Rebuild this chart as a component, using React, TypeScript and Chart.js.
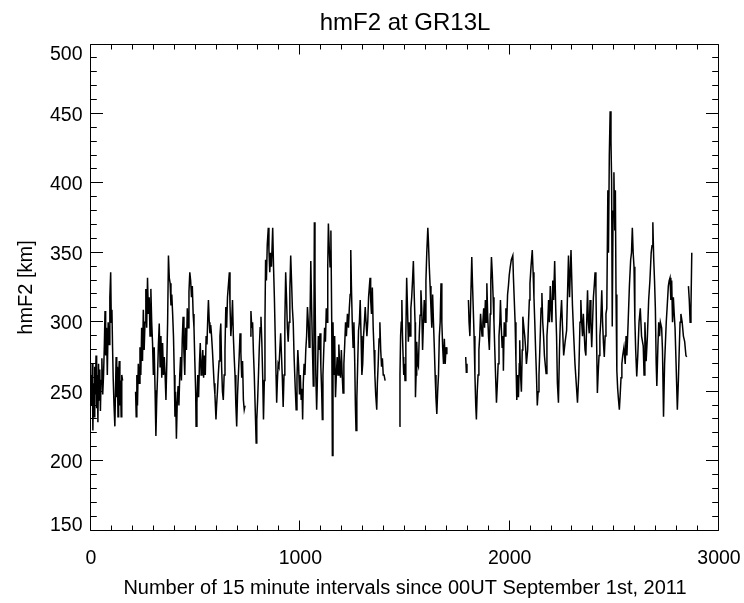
import { useEffect, useRef } from 'react';
import { Chart, registerables } from 'chart.js';

Chart.register(...registerables);

// [interval index, hmF2 km], one array per continuous stretch of data
const seg1: [number, number][] = [
  [0, 262], [3, 240], [6, 270], [9, 222], [12, 256], [15, 232], [18, 268], [21, 248], [24, 276], [27, 238],
  [30, 262], [33, 228], [36, 270], [39, 244], [42, 266], [45, 236], [48, 258], [52, 274], [56, 248], [60, 262],
  [64, 285], [67, 308], [70, 276], [74, 296], [78, 262], [82, 300], [86, 284], [90, 318], [94, 336], [97, 300],
  [100, 309], [103, 282], [106, 260], [110, 240], [114, 225], [117, 250], [120, 275], [123, 246], [126, 268],
  [129, 232], [132, 262], [135, 272], [138, 240], [141, 258], [144, 232], [147, 262], [151, 258],
];

const seg2: [number, number][] = [
  [213, 250], [216, 232], [219, 262], [222, 240], [226, 270], [230, 256], [234, 282], [238, 262], [242, 296],
  [246, 272], [250, 309], [254, 280], [258, 300], [262, 324], [266, 296], [270, 332], [274, 306], [278, 318],
  [282, 290], [286, 324], [290, 300], [294, 285], [298, 262], [302, 282], [306, 251], [310, 218], [314, 244],
  [318, 262], [322, 284], [326, 299], [330, 268], [334, 290], [338, 260], [342, 285], [346, 262], [350, 275],
  [354, 262], [358, 244], [362, 270], [366, 300], [370, 348], [374, 332], [378, 328], [382, 312], [386, 320],
  [390, 306], [394, 290], [398, 262], [401, 232], [404, 250], [408, 216], [412, 242], [416, 254], [420, 240],
  [424, 262], [428, 275], [432, 258], [436, 288], [440, 304], [444, 278], [448, 262], [452, 296], [456, 280],
  [460, 310], [464, 296], [468, 322], [472, 336], [476, 330], [480, 318], [484, 326], [488, 306], [492, 296],
  [496, 272], [500, 250], [502, 225], [506, 242], [510, 262], [514, 246], [518, 270], [522, 285], [526, 262],
  [530, 268], [534, 280], [538, 260], [542, 276], [546, 262], [550, 290], [554, 284], [558, 304], [561, 316],
  [565, 300], [568, 292], [572, 298], [576, 290], [580, 280], [584, 268], [588, 256], [592, 248], [597, 230],
  [600, 240], [604, 250], [608, 262], [612, 272], [616, 290], [620, 299], [624, 268], [628, 250], [632, 244],
  [636, 262], [640, 280], [644, 311], [648, 296], [652, 318], [656, 326], [661, 336], [664, 312], [668, 290],
  [672, 300], [676, 316], [680, 290], [684, 275], [688, 262], [692, 240], [696, 225], [700, 248], [704, 262],
  [708, 276], [712, 292], [716, 278], [720, 260], [724, 272], [728, 244], [732, 237], [736, 240],
];

const seg3: [number, number][] = [
  [760, 290], [764, 308], [768, 296], [772, 300], [776, 278], [780, 262], [784, 240], [789, 213], [792, 230],
  [796, 244], [800, 262], [804, 282], [808, 296], [812, 304], [816, 286], [820, 262], [824, 230], [828, 258],
  [831, 300], [834, 345], [838, 330], [842, 356], [847, 368], [850, 352], [854, 336], [858, 350], [862, 340],
  [868, 368], [872, 340], [876, 318], [880, 290], [884, 262], [887, 242], [890, 256], [894, 270], [898, 268],
  [902, 280], [906, 292], [910, 276], [914, 260], [918, 239], [922, 262], [926, 300], [930, 336], [934, 318],
  [938, 296], [942, 286], [946, 300], [950, 324], [954, 348], [958, 330], [962, 310], [966, 300], [970, 276],
  [975, 255], [980, 237], [984, 260], [988, 280], [992, 268], [996, 248], [1000, 262], [1004, 244], [1008, 252],
  [1011, 230], [1014, 256], [1018, 270], [1022, 262], [1026, 280], [1030, 290], [1034, 311], [1038, 300],
  [1042, 282], [1046, 300], [1050, 344], [1054, 310], [1058, 280], [1062, 254], [1065, 300], [1067, 372],
  [1070, 330], [1074, 262], [1078, 237], [1082, 262], [1086, 290], [1090, 280], [1094, 292], [1098, 268],
  [1102, 250], [1105, 230], [1108, 262], [1112, 280], [1116, 296], [1120, 286], [1124, 310], [1128, 300],
  [1131, 340], [1134, 371], [1138, 354], [1142, 340], [1146, 366], [1150, 300], [1153, 204], [1156, 300],
  [1160, 262], [1164, 290], [1168, 246], [1172, 262], [1176, 275], [1180, 262], [1184, 284], [1188, 268],
  [1192, 260], [1196, 280], [1200, 262], [1204, 249], [1208, 270], [1212, 284], [1216, 300], [1220, 290],
  [1225, 306], [1230, 296], [1234, 310], [1238, 320], [1241, 352], [1244, 326], [1248, 300], [1252, 282],
  [1256, 300], [1260, 270], [1263, 240], [1266, 222], [1270, 245], [1274, 270], [1278, 294], [1282, 300],
  [1286, 316], [1290, 290], [1294, 262], [1298, 270], [1302, 290], [1306, 300], [1310, 311], [1314, 300],
  [1318, 290], [1322, 300], [1326, 318], [1330, 326], [1333, 332], [1336, 316], [1340, 306], [1344, 325],
  [1348, 296], [1352, 280], [1356, 262], [1360, 248], [1365, 237], [1368, 256], [1372, 270], [1376, 288],
  [1380, 300], [1384, 280], [1388, 268], [1392, 274], [1396, 262], [1400, 262], [1405, 258],
];

const seg4: [number, number][] = [
  [1473, 225], [1476, 262], [1479, 290], [1482, 300], [1485, 316], [1488, 290], [1491, 275], [1494, 262],
  [1497, 270], [1500, 258], [1504, 290], [1508, 332], [1512, 310], [1516, 286], [1520, 300], [1524, 290],
  [1528, 310], [1532, 318], [1536, 330], [1540, 344], [1544, 320], [1548, 300], [1550, 246], [1553, 262],
  [1556, 286], [1560, 270], [1564, 268], [1568, 290], [1572, 305], [1576, 323], [1580, 310], [1584, 280],
  [1588, 300], [1592, 316], [1596, 300], [1600, 330], [1604, 350], [1609, 368], [1612, 358], [1616, 340],
  [1620, 326], [1624, 310], [1628, 296], [1632, 320], [1636, 300], [1640, 282], [1644, 262], [1648, 245],
  [1652, 234], [1656, 250], [1660, 262], [1664, 290], [1668, 300], [1672, 328], [1676, 300], [1680, 282],
  [1684, 270], [1688, 288], [1692, 270], [1696, 282], [1700, 277],
];

const seg5: [number, number][] = [[1790, 275], [1793, 264], [1796, 270]];

const seg6: [number, number][] = [
  [1803, 316], [1806, 300], [1810, 290], [1814, 316], [1819, 347], [1822, 330], [1826, 310], [1830, 290],
  [1834, 262], [1838, 240], [1841, 230], [1845, 250], [1849, 262], [1853, 280], [1857, 290], [1861, 306],
  [1865, 296], [1868, 290], [1872, 300], [1876, 310], [1880, 296], [1884, 316], [1888, 300], [1891, 328],
  [1895, 305], [1899, 290], [1903, 280], [1907, 306], [1910, 330], [1913, 347], [1917, 335], [1921, 318],
  [1925, 300], [1929, 280], [1933, 260], [1937, 242], [1941, 255], [1945, 270], [1949, 290], [1953, 300],
  [1956, 316], [1960, 296], [1964, 282], [1968, 290], [1970, 265], [1974, 300], [1978, 290], [1982, 310],
  [1986, 300], [1990, 320], [1994, 326], [1998, 334], [2003, 340], [2008, 345], [2015, 348], [2018, 332],
  [2022, 316], [2026, 300], [2030, 272], [2034, 244], [2038, 262], [2042, 246], [2046, 270], [2048, 287],
  [2052, 262], [2056, 250], [2060, 280], [2063, 304], [2068, 296], [2072, 290], [2076, 282], [2080, 270],
  [2086, 280], [2090, 300], [2094, 316], [2097, 328], [2102, 340], [2108, 352], [2112, 336], [2116, 318],
  [2120, 300], [2124, 280], [2128, 262], [2132, 240], [2136, 250], [2140, 262], [2144, 280], [2148, 300],
  [2150, 310], [2154, 321], [2158, 300], [2162, 290], [2166, 276], [2174, 263], [2178, 290], [2182, 300],
  [2186, 316], [2190, 300], [2194, 326], [2198, 310], [2202, 300], [2206, 330], [2210, 316], [2215, 344],
  [2220, 310], [2224, 290], [2228, 256], [2233, 242], [2238, 280], [2242, 300], [2248, 316], [2252, 298],
  [2258, 276], [2265, 286], [2272, 294], [2281, 348], [2286, 318], [2293, 352], [2300, 312], [2306, 290],
  [2312, 270], [2318, 256], [2324, 242], [2330, 262], [2336, 300], [2340, 316], [2344, 300], [2348, 290],
  [2352, 306], [2356, 292], [2360, 280], [2364, 276], [2368, 300], [2372, 323], [2376, 300], [2380, 292],
  [2384, 316], [2388, 300], [2392, 282], [2396, 300], [2400, 318], [2404, 326], [2408, 336], [2412, 325],
  [2415, 290], [2419, 249], [2423, 264], [2427, 276], [2431, 290], [2435, 300], [2440, 323], [2444, 300],
  [2448, 285], [2452, 275], [2456, 290], [2460, 306], [2464, 310], [2469, 395], [2472, 350], [2476, 420],
  [2480, 452], [2484, 430], [2487, 402], [2490, 297], [2494, 380], [2498, 408], [2502, 366], [2505, 395],
  [2508, 320], [2512, 265], [2516, 252], [2520, 244], [2524, 237], [2528, 248], [2532, 260], [2536, 270],
  [2540, 276], [2546, 282], [2552, 270], [2556, 290], [2560, 276], [2566, 300], [2572, 326], [2578, 345],
  [2582, 350], [2586, 368], [2590, 350], [2594, 340], [2598, 302], [2602, 280], [2607, 261], [2612, 276],
  [2618, 300], [2624, 310], [2630, 290], [2638, 283], [2642, 262], [2646, 300], [2652, 272], [2658, 290],
  [2664, 316], [2670, 330], [2676, 350], [2680, 355], [2684, 372], [2688, 346], [2692, 330], [2696, 310],
  [2700, 270], [2703, 254], [2708, 282], [2712, 300], [2716, 290], [2720, 300], [2726, 296], [2730, 280],
  [2735, 232], [2740, 270], [2744, 285], [2748, 300], [2752, 310], [2758, 326], [2762, 330], [2766, 332],
  [2770, 316], [2774, 330], [2778, 300], [2782, 318], [2786, 306], [2790, 296], [2795, 270], [2801, 237],
  [2806, 258], [2810, 280], [2814, 300], [2818, 306], [2824, 300], [2830, 290], [2836, 286], [2842, 276],
  [2846, 275],
];

const seg7: [number, number][] = [
  [2854, 326], [2858, 316], [2862, 300], [2866, 310], [2870, 350],
];

const segments = [seg1, seg2, seg3, seg4, seg5, seg6, seg7];

const xTickValues = [0, 1000, 2000, 3000];
const yTickValues = [150, 200, 250, 300, 350, 400, 450, 500];

const TITLE = 'hmF2 at GR13L';
const X_TITLE = 'Number of 15 minute intervals since 00UT September 1st, 2011';
const Y_TITLE = 'hmF2 [km]';
const FONT = "'Liberation Sans', Arial, Helvetica, sans-serif";

function buildPoints() {
  const pts: { x: number; y: number | null }[] = [];
  segments.forEach((seg, i) => {
    if (i > 0) {
      const prev = segments[i - 1];
      pts.push({ x: (prev[prev.length - 1][0] + seg[0][0]) / 2, y: null });
    }
    seg.forEach(([x, y]) => pts.push({ x, y }));
  });
  return pts;
}

const idlAxes = {
  id: 'idlAxes',
  afterDraw(chart: any) {
    const { ctx, chartArea } = chart;
    const { left, right, top, bottom } = chartArea;
    const xs = chart.scales.x;
    const ys = chart.scales.y;
    const L = Math.round(left) - 0.5;
    const R = Math.round(right) - 0.5;
    const T = Math.round(top) - 0.5;
    const B = Math.round(bottom) - 0.5;
    ctx.save();
    ctx.strokeStyle = '#000';
    ctx.lineWidth = 1;
    ctx.beginPath();
    ctx.moveTo(L, T);
    ctx.lineTo(R, T);
    ctx.lineTo(R, B);
    ctx.lineTo(L, B);
    ctx.closePath();
    for (let v = 0; v <= 3000; v += 100) {
      const px = Math.round(xs.getPixelForValue(v)) - 0.5;
      const len = v % 1000 === 0 ? 10 : 5;
      ctx.moveTo(px, B);
      ctx.lineTo(px, B - len);
      ctx.moveTo(px, T);
      ctx.lineTo(px, T + len);
    }
    for (let v = 150; v <= 500; v += 10) {
      const py = Math.round(ys.getPixelForValue(v)) - 0.5;
      const len = v % 50 === 0 ? 12.5 : 6.3;
      ctx.moveTo(L, py);
      ctx.lineTo(L + len, py);
      ctx.moveTo(R, py);
      ctx.lineTo(R - len, py);
    }
    ctx.stroke();

    ctx.fillStyle = '#000';
    ctx.textBaseline = 'alphabetic';
    // tick labels
    ctx.font = `19.5px ${FONT}`;
    ctx.textAlign = 'center';
    xTickValues.forEach((v) => {
      ctx.fillText(String(v), xs.getPixelForValue(v), bottom + 33.5);
    });
    ctx.textAlign = 'right';
    yTickValues.forEach((v) => {
      let cy = ys.getPixelForValue(v);
      cy = Math.max(cy, top + 8.8);
      cy = Math.min(cy, bottom - 6.5);
      ctx.fillText(String(v), left - 8.5, cy + 7);
    });
    // titles
    ctx.textAlign = 'center';
    ctx.font = `24px ${FONT}`;
    ctx.fillText(TITLE, (left + right) / 2, 30);
    ctx.font = `20px ${FONT}`;
    ctx.fillText(X_TITLE, (left + right) / 2, 594);
    ctx.save();
    ctx.translate(31.5, (top + bottom) / 2);
    ctx.rotate(-Math.PI / 2);
    ctx.fillText(Y_TITLE, 0, 0);
    ctx.restore();
    ctx.restore();
  },
};

export default function App() {
  const ref = useRef<HTMLCanvasElement | null>(null);
  useEffect(() => {
    if (!ref.current) return;
    const chart = new Chart(ref.current, {
      type: 'line',
      data: {
        datasets: [
          {
            data: buildPoints() as any,
            borderColor: '#000',
            borderWidth: 1.5,
            pointRadius: 0,
            spanGaps: false,
            tension: 0,
            fill: false,
          },
        ],
      },
      options: {
        responsive: false,
        animation: false,
        events: [],
        layout: { padding: { top: 44.5, right: 25, left: 0, bottom: 0 } },
        plugins: { legend: { display: false }, title: { display: false }, tooltip: { enabled: false } },
        scales: {
          x: {
            type: 'linear',
            min: 0,
            max: 3000,
            grid: { display: false, drawTicks: false },
            border: { display: false },
            ticks: { display: false },
            afterFit: (s: any) => {
              s.height = 72.5;
            },
          },
          y: {
            type: 'linear',
            min: 150,
            max: 500,
            grid: { display: false, drawTicks: false },
            border: { display: false },
            ticks: { display: false },
            afterFit: (s: any) => {
              s.width = 91;
            },
          },
        },
      },
      plugins: [idlAxes],
    });
    return () => chart.destroy();
  }, []);
  return (
    <div style={{ position: 'absolute', left: 0, top: 0, width: 744, height: 603, background: '#fff' }}>
      <canvas ref={ref} width={744} height={603} style={{ display: 'block' }} />
    </div>
  );
}
